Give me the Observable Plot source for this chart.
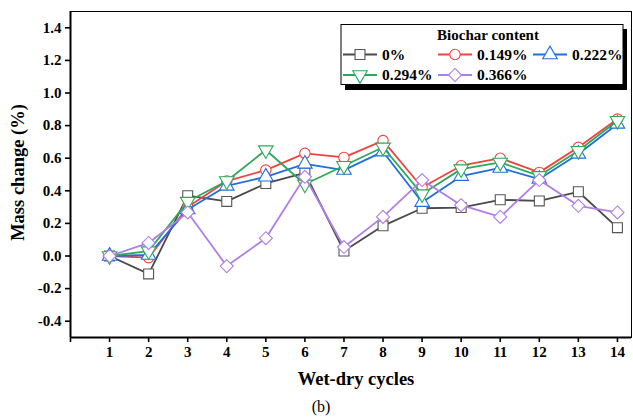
<!DOCTYPE html>
<html><head><meta charset="utf-8">
<script src="https://cdn.jsdelivr.net/npm/d3@7"></script>
<script src="https://cdn.jsdelivr.net/npm/@observablehq/plot@0.6"></script>
<style>
html,body{margin:0;padding:0;background:#fff;}
#chart{width:633px;height:418px;}
</style></head>
<body><div id="chart"></div>
<script>
// ---- data ----
const cycles = [1,2,3,4,5,6,7,8,9,10,11,12,13,14];
const seriesNames = ["0%", "0.149%", "0.222%", "0.294%", "0.366%"];
const s0   = [0, -0.11, 0.37, 0.335, 0.445, 0.51, 0.03, 0.185, 0.293, 0.297, 0.345, 0.338, 0.394, 0.174];
const s149 = [0, -0.01, 0.30, 0.46, 0.527, 0.63, 0.605, 0.708, 0.42, 0.554, 0.60, 0.513, 0.667, 0.84];
const s222 = [0, 0.006, 0.285, 0.43, 0.486, 0.565, 0.527, 0.64, 0.33, 0.49, 0.54, 0.472, 0.626, 0.81];
const s294 = [0, 0.03, 0.334, 0.46, 0.65, 0.44, 0.554, 0.667, 0.38, 0.533, 0.574, 0.492, 0.646, 0.83];
const s366 = [0, 0.08, 0.267, -0.062, 0.109, 0.486, 0.055, 0.24, 0.466, 0.312, 0.24, 0.466, 0.308, 0.267];
const seriesValues = [s0, s149, s222, s294, s366];
const yTicks = [-0.4, -0.2, 0, 0.2, 0.4, 0.6, 0.8, 1.0, 1.2, 1.4];
const xTicks = [0,1,2,3,4,5,6,7,8,9,10,11,12,13,14];
const legendTitle = "Biochar content";
const xTitle = "Wet-dry cycles";
const yTitle = "Mass change (%)";
const caption = "(b)";

// ---- styles ----
const colors = ["#555555", "#f0443f", "#1f6fe0", "#2ea85a", "#b07ee6"];
const lineColors = ["#4a4a4a", "#f0443f", "#1f6fe0", "#2ea85a", "#b07ee6"];
const symDown = {draw(ctx, size){
  const y = Math.sqrt(size / (Math.sqrt(3) * 3));
  ctx.moveTo(0, y * 2); ctx.lineTo(-Math.sqrt(3) * y, -y); ctx.lineTo(Math.sqrt(3) * y, -y); ctx.closePath();
}};
const symDiamond = {draw(ctx, size){
  const h = Math.sqrt(size) / Math.SQRT2;
  ctx.moveTo(0, -h); ctx.lineTo(h, 0); ctx.lineTo(0, h); ctx.lineTo(-h, 0); ctx.closePath();
}};
const symUp = {draw(ctx, size){
  const y = -Math.sqrt(size / (Math.sqrt(3) * 3));
  ctx.moveTo(0, y * 2); ctx.lineTo(-Math.sqrt(3) * y, -y); ctx.lineTo(Math.sqrt(3) * y, -y); ctx.closePath();
}};
const symbols = [d3.symbolSquare, d3.symbolCircle, symUp, symDown, symDiamond];
const R = [5.6, 5.2, 5.4, 5.4, 5.2];

const rows = [];
seriesNames.forEach((name, si) => cycles.forEach((c, i) => rows.push({series: name, si, x: c, y: seriesValues[si][i]})));

const marks = [];
seriesNames.forEach((name, si) => {
  const d = rows.filter(r => r.si === si);
  marks.push(Plot.line(d, {x: "x", y: "y", stroke: lineColors[si], strokeWidth: 1.8}));
  marks.push(Plot.dot(d, {x: "x", y: "y", symbol: symbols[si], r: R[si], stroke: colors[si], strokeWidth: 1.1, fill: "white"}));
});

const font = "'Liberation Serif', 'Times New Roman', serif";
const plot = Plot.plot({
  width: 633, height: 418,
  marginLeft: 70, marginRight: 2, marginTop: 11, marginBottom: 81,
  style: {fontFamily: font, fontSize: "15px", fontWeight: "bold", color: "black", background: "white"},
  x: {domain: [0, 14.36]},
  y: {domain: [-0.5, 1.5]},
  marks: [
    Plot.frame({stroke: "black", strokeWidth: 1}),
    Plot.ruleX([0], {stroke: "black", strokeWidth: 2}),
    Plot.ruleY([-0.5], {stroke: "black", strokeWidth: 2}),
    Plot.axisY({ticks: yTicks, tickFormat: d => d.toFixed(1), tickSize: 5, tickPadding: 4, strokeWidth: 1.6, label: null, fontSize: 15, fontWeight: "bold"}),
    Plot.axisX({ticks: xTicks, tickFormat: d => d === 0 ? "" : String(d), tickSize: 5, tickPadding: 4, strokeWidth: 1.6, label: null, fontSize: 15, fontWeight: "bold"}),
    ...marks,
    Plot.text([xTitle], {text: d => d, frameAnchor: "bottom", textAnchor: "middle", lineAnchor: "middle", dy: 42, fontSize: 18.5, fontWeight: "bold", dx: 5}),
    Plot.text([caption], {text: d => d, frameAnchor: "bottom", textAnchor: "middle", lineAnchor: "middle", dy: 69, fontSize: 16, fontWeight: "normal", dx: -30}),
    Plot.text([yTitle], {text: d => d, frameAnchor: "left", textAnchor: "middle", lineAnchor: "middle", dx: -52, dy: -2, rotate: -90, fontSize: 18.5, fontWeight: "bold"})
  ]
});
document.getElementById("chart").appendChild(plot);

// ---- legend ----
const svg = d3.select(plot);
const lg = svg.append("g").attr("font-family", font).attr("font-weight", "bold");
lg.append("rect").attr("x", 345).attr("y", 29).attr("width", 282).attr("height", 61).attr("fill", "black");
lg.append("rect").attr("x", 341).attr("y", 24.5).attr("width", 282).attr("height", 60).attr("fill", "white").attr("stroke", "black").attr("stroke-width", 1);
lg.append("text").attr("x", 488).attr("y", 40).attr("text-anchor", "middle").attr("font-size", 15).text(legendTitle);
const pos = [[343, 54.5], [438, 54.5], [533, 54.5], [343, 75], [438, 75]];
seriesNames.forEach((name, si) => {
  const [x0, y0] = pos[si];
  lg.append("line").attr("x1", x0).attr("x2", x0 + 34).attr("y1", y0).attr("y2", y0).attr("stroke", lineColors[si]).attr("stroke-width", 1.8);
  lg.append("path").attr("d", d3.symbol(symbols[si], Math.PI * R[si] * R[si])()).attr("transform", `translate(${x0 + 17},${y0})`)
    .attr("fill", "white").attr("stroke", colors[si]).attr("stroke-width", 1.1);
  lg.append("text").attr("x", x0 + 39).attr("y", y0).attr("dy", "0.35em").attr("text-anchor", "start").attr("font-size", 15.5).text(name);
});
</script></body></html>
